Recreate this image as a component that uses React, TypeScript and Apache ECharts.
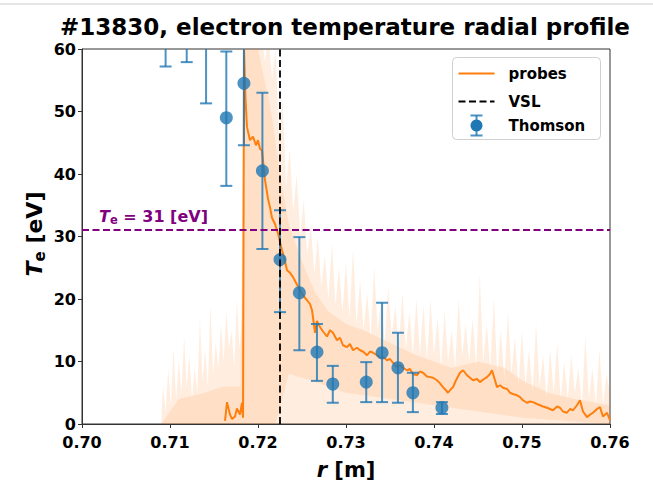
import React, { useEffect, useRef } from "react";
import * as echarts from "echarts";

// ---------- data ----------
const titleText = "#13830, electron temperature radial profile";
const xTickMin = 0.7;
const xTickMax = 0.76;
const yTickMin = 0;
const yTickMax = 60;

const vslR = 0.7225;
const teThreshold = 31;

// probe mean profile
const probeR = [
  0.71625, 0.71648, 0.71682, 0.71705, 0.71739, 0.71761, 0.71795, 0.71818, 0.7183, 0.71841,
  0.71858, 0.71875, 0.71909, 0.71943, 0.71977, 0.72, 0.72023, 0.72045, 0.7208, 0.72114,
  0.72136, 0.72159, 0.72193, 0.72227, 0.72273, 0.72307, 0.7233, 0.72364, 0.72398, 0.72432,
  0.72477, 0.72511, 0.72557, 0.72591, 0.72614, 0.72648, 0.7267, 0.72705, 0.72739, 0.72784,
  0.72818, 0.72852, 0.72898, 0.72932, 0.72966, 0.73011, 0.73045, 0.7308, 0.73125, 0.73159,
  0.73193, 0.73239, 0.73273, 0.73307, 0.73352, 0.73386, 0.73432, 0.73466, 0.735, 0.73534,
  0.7358, 0.73614, 0.73648, 0.73693, 0.73727, 0.73761, 0.73807, 0.73841, 0.73875, 0.7392,
  0.73955, 0.73989, 0.74034, 0.74068, 0.74102, 0.74136, 0.74159, 0.74193, 0.74216, 0.7425,
  0.74295, 0.7433, 0.74375, 0.74409, 0.74443, 0.74489, 0.74523, 0.74568, 0.74602, 0.74636,
  0.74659, 0.74693, 0.74716, 0.7475, 0.74784, 0.7483, 0.74864, 0.74898, 0.74943, 0.74977,
  0.75011, 0.75057, 0.75091, 0.75125, 0.7517, 0.75205, 0.75239, 0.75284, 0.75318, 0.75352,
  0.75398, 0.75432, 0.75466, 0.75511, 0.75545, 0.7558, 0.75625, 0.75659, 0.75693, 0.75739,
  0.75773, 0.75807, 0.75852, 0.75886, 0.7592, 0.75966, 0.76,
];
const probeTe = [
  0.5, 3.5, 1.5, 0.8, 1.2, 2.5, 1.5, 3.4, 1.0, 60,
  52, 47.5, 45.4, 46, 44.6, 45.4, 44, 43.8, 39, 36,
  34.7, 33, 32, 30.5, 27.8, 26, 24.6, 24.2, 23.5, 22.6,
  21.4, 20.6, 19.8, 19.2, 18.2, 14.6, 16.5, 15.5, 14.8, 14,
  15, 14.6, 13.4, 13.8, 12.6, 12.3, 12.8, 11.8, 12.2, 11.8,
  11.6, 11, 11.6, 11.4, 11, 10.7, 10.6, 10.2, 10.4, 9.8,
  9.1, 9.4, 9.0, 8.6, 8.8, 8.0, 7.8, 8.4, 8.2, 7.6,
  7.5, 7.4, 7.0, 6.5, 5.9, 5.4, 5.0, 5.6, 5.9, 7.0,
  8.2, 8.6, 7.8, 7.4, 7.0, 7.2, 6.7, 7.2, 7.5, 8.0,
  8.6, 7.0, 5.9, 6.2, 5.8, 5.6, 5.0, 4.8, 4.6, 4.3,
  3.8, 3.4, 3.6, 3.5, 3.2, 3.0, 2.8, 2.6, 2.4, 2.2,
  2.8, 2.6, 2.0, 1.8, 2.4, 2.2, 3.0, 3.8, 2.0, 1.1,
  1.5, 1.8, 2.4, 2.7, 1.2, 1.8, 0.6,
];

// raw probe signal: outer (spike) envelope, upper edge
const bandHiR = [
  0.709, 0.7092, 0.7095, 0.7098, 0.7101, 0.7104, 0.7107, 0.711, 0.7113, 0.7116,
  0.7119, 0.7122, 0.7125, 0.7128, 0.7131, 0.7134, 0.7137, 0.714, 0.7143, 0.7146,
  0.7149, 0.7152, 0.7155, 0.7158, 0.7161, 0.7164, 0.7167, 0.717, 0.7173, 0.7176,
  0.7179, 0.7182, 0.7184, 0.7188, 0.7192, 0.7196, 0.72, 0.7204, 0.7208, 0.7212,
  0.7216, 0.722, 0.7224, 0.7228, 0.7232, 0.7236, 0.724, 0.7244, 0.7248, 0.7252,
  0.7256, 0.726, 0.7264, 0.7268, 0.7272, 0.7276, 0.728, 0.7284, 0.7288, 0.7292,
  0.7296, 0.73, 0.7304, 0.7308, 0.7312, 0.7316, 0.732, 0.7324, 0.7328, 0.7332,
  0.7336, 0.734, 0.7344, 0.7348, 0.7352, 0.7356, 0.736, 0.7364, 0.7368, 0.7372,
  0.7376, 0.738, 0.7384, 0.7388, 0.7392, 0.7396, 0.74, 0.7404, 0.7408, 0.7412,
  0.7416, 0.742, 0.7424, 0.7428, 0.7432, 0.7436, 0.744, 0.7444, 0.7448, 0.7452,
  0.7456, 0.746, 0.7464, 0.7468, 0.7472, 0.7476, 0.748, 0.7484, 0.7488, 0.7492,
  0.7496, 0.75, 0.7504, 0.7508, 0.7512, 0.7516, 0.752, 0.7524, 0.7528, 0.7532,
  0.7536, 0.754, 0.7544, 0.7548, 0.7552, 0.7556, 0.756, 0.7564, 0.7568, 0.7572,
  0.7576, 0.758, 0.7584, 0.7588, 0.7592, 0.7596, 0.76,
];
const bandHi = [
  0, 6, 2, 9, 3, 12, 4, 10, 5, 14,
  6, 11, 4, 9, 5, 17, 7, 12, 6, 19,
  8, 13, 9, 16, 10, 18, 12, 15, 9, 20,
  12, 17, 62, 65, 62, 66, 63, 62, 58, 62,
  55, 60, 45, 52, 38, 44, 34, 40, 30, 36,
  27, 32, 24, 30, 22, 27, 20, 29, 19, 25,
  18, 26, 17, 28, 16, 23, 15, 21, 14, 25,
  15, 20, 13, 22, 14, 19, 12, 21, 12, 18,
  11, 20, 11, 19, 10, 20, 11, 17, 9, 18,
  10, 15, 9, 20, 11, 16, 10, 17, 9, 24,
  10, 16, 9, 20, 8, 15, 7, 18, 8, 14,
  6, 15, 6, 12, 5, 16, 6, 11, 4, 12,
  5, 13, 4, 10, 4, 11, 5, 9, 3, 14,
  4, 9, 3, 12, 3, 8, 5,
];
// outer envelope, lower edge
const bandLoR = [0.709, 0.76];
const bandLo = [0, 0];

// raw probe signal: dense core, upper and lower edges
const coreHiR = [0.709, 0.711, 0.714, 0.716, 0.718, 0.7184, 0.72, 0.7215, 0.7225, 0.7235, 0.725, 0.7265, 0.728, 0.73, 0.732, 0.735, 0.738, 0.74, 0.742, 0.745, 0.748, 0.75, 0.753, 0.756, 0.76];
const coreHi = [0, 4, 5, 6, 6, 60, 60, 50, 40, 32, 26, 21, 18, 16, 15, 13, 11, 10, 9, 10, 9, 7, 5, 4, 3];
const coreLoR = [0.709, 0.7184, 0.722, 0.7235, 0.726, 0.73, 0.735, 0.74, 0.745, 0.75, 0.76];
const coreLo = [0, 0, 0, 8, 7, 5, 4, 3, 2, 1, 0];

// Thomson scattering
const thomsonR = [0.7095, 0.7119, 0.7141, 0.7164, 0.7184, 0.7205, 0.7225, 0.7247, 0.7267, 0.7285, 0.7323, 0.7341, 0.7359, 0.7376, 0.7409];
const thomsonTe = [70, 68, 64, 49, 54.5, 40.5, 26.3, 21, 11.5, 6.4, 6.7, 11.4, 9.0, 5.0, 2.6];
const thomsonLo = [57.2, 57.9, 51.3, 38.1, 44.6, 28.0, 17.9, 11.8, 6.9, 3.4, 3.5, 3.5, 3.4, 1.9, 1.6];
const thomsonHi = [83, 78, 77, 59.6, 65, 53, 34.2, 29.9, 16, 9.3, 9.9, 19.4, 14.6, 8.2, 3.5];

// ---------- chart ----------
const FONT = "DejaVu Sans";
const ORANGE = "#ff7f0e";
const BLUE = "#1f77b4";
const PURPLE = "#800080";
const ERR = "rgba(31,119,180,0.8)";

function envelopeSeries(hiR: number[], hi: number[], loR: number[], lo: number[], fill: string, z: number) {
  return {
    type: "custom",
    clip: true,
    silent: true,
    z,
    data: [[0.73, 10]],
    renderItem: (params: any, api: any) => {
      const pts: number[][] = [];
      for (let i = 0; i < hiR.length; i++) pts.push(api.coord([hiR[i], hi[i]]));
      for (let i = loR.length - 1; i >= 0; i--) pts.push(api.coord([loR[i], lo[i]]));
      return { type: "polygon", shape: { points: pts }, style: { fill, stroke: "none" } };
    },
  };
}

export default function App() {
  const ref = useRef<HTMLDivElement>(null);

  useEffect(() => {
    if (!ref.current) return;
    const chart = echarts.init(ref.current, null, { renderer: "svg" });

    const probeData = probeR.map((r, i) => [r, probeTe[i]]);
    const thomsonData = thomsonR.map((r, i) => [r, thomsonTe[i]]);
    const errData = thomsonR.map((r, i) => [r, thomsonLo[i], thomsonHi[i]]);

    const option: any = {
      animation: false,
      backgroundColor: "#fff",
      grid: {
        left: 82,
        right: 43,
        top: 49,
        bottom: 76,
        show: true,
        borderColor: "#333",
        borderWidth: 1,
        backgroundColor: "transparent",
      },
      xAxis: {
        type: "value",
        min: xTickMin,
        max: xTickMax,
        interval: 0.01,
        axisLine: { show: true, lineStyle: { color: "#333", width: 1 } },
        axisTick: { show: true, length: 4, lineStyle: { color: "#333" } },
        axisLabel: {
          formatter: (v: number) => v.toFixed(2),
          fontFamily: FONT,
          fontWeight: "bold",
          fontSize: 16,
          color: "#000",
          margin: 10,
        },
        splitLine: { show: false },
      },
      yAxis: {
        type: "value",
        min: yTickMin,
        max: yTickMax,
        interval: 10,
        axisLine: { show: true, lineStyle: { color: "#333", width: 1 } },
        axisTick: { show: true, length: 4, lineStyle: { color: "#333" } },
        axisLabel: {
          fontFamily: FONT,
          fontWeight: "bold",
          fontSize: 16,
          color: "#000",
          margin: 6,
        },
        splitLine: { show: false },
      },
      series: [
        envelopeSeries(bandHiR, bandHi, bandLoR, bandLo, "rgba(255,127,14,0.13)", 1),
        envelopeSeries(coreHiR, coreHi, coreLoR, coreLo, "rgba(255,127,14,0.12)", 1),
        {
          type: "line",
          name: "probes",
          data: probeData,
          showSymbol: false,
          symbol: "none",
          z: 2,
          lineStyle: { color: ORANGE, width: 2 },
          markLine: {
            silent: true,
            symbol: "none",
            precision: 5,
            label: { show: false },
            data: [
              { yAxis: teThreshold, lineStyle: { color: PURPLE, width: 1.8, type: [7, 3.5] } },
              { xAxis: vslR, lineStyle: { color: "#000", width: 1.8, type: [7, 3.5] } },
            ],
          },
        },
        {
          type: "custom",
          name: "errbars",
          clip: true,
          z: 3,
          encode: { x: 0, y: [1, 2] },
          data: errData,
          renderItem: (params: any, api: any) => {
            const x = api.value(0);
            const lo = api.coord([x, api.value(1)]);
            const hi = api.coord([x, api.value(2)]);
            const w = 6;
            const style = { stroke: ERR, lineWidth: 2 };
            return {
              type: "group",
              children: [
                { type: "line", shape: { x1: lo[0], y1: lo[1], x2: hi[0], y2: hi[1] }, style },
                { type: "line", shape: { x1: lo[0] - w, y1: lo[1], x2: lo[0] + w, y2: lo[1] }, style },
                { type: "line", shape: { x1: hi[0] - w, y1: hi[1], x2: hi[0] + w, y2: hi[1] }, style },
              ],
            };
          },
        },
        {
          type: "scatter",
          name: "Thomson",
          data: thomsonData,
          symbol: "circle",
          symbolSize: 13,
          clip: true,
          z: 4,
          itemStyle: { color: BLUE },
        },
      ],
      graphic: [
        { type: "line", shape: { x1: 0, y1: 4, x2: 653, y2: 4 }, style: { stroke: "#cccccc", lineWidth: 1 }, z: 0 },
        {
          type: "text",
          x: 345,
          y: 27,
          style: {
            text: titleText,
            fontFamily: FONT,
            fontWeight: "bold",
            fontSize: 23,
            fill: "#000",
            textAlign: "center",
            textVerticalAlign: "middle",
          },
        },
        {
          type: "text",
          x: 346,
          y: 470,
          style: {
            text: "{i|r}{n| [m]}",
            textAlign: "center",
            textVerticalAlign: "middle",
            rich: {
              i: { fontFamily: FONT, fontWeight: "bold", fontStyle: "italic", fontSize: 21, fill: "#000" },
              n: { fontFamily: FONT, fontWeight: "bold", fontSize: 21, fill: "#000" },
            },
          },
        },
        {
          type: "text",
          x: 34,
          y: 234,
          rotation: Math.PI / 2,
          style: {
            text: "{i|T}{s|e}{n| [eV]}",
            textAlign: "center",
            textVerticalAlign: "middle",
            rich: {
              i: { fontFamily: FONT, fontWeight: "bold", fontStyle: "italic", fontSize: 22, fill: "#000", lineHeight: 26, verticalAlign: "middle" },
              s: { fontFamily: FONT, fontWeight: "bold", fontSize: 15, fill: "#000", lineHeight: 26, verticalAlign: "bottom" },
              n: { fontFamily: FONT, fontWeight: "bold", fontSize: 22, fill: "#000", lineHeight: 26, verticalAlign: "middle" },
            },
          },
        },
        {
          type: "text",
          x: 99,
          y: 216,
          style: {
            text: "{i|T}{s|e}{n| = " + teThreshold + " [eV]}",
            textAlign: "left",
            textVerticalAlign: "middle",
            rich: {
              i: { fontFamily: FONT, fontWeight: "bold", fontStyle: "italic", fontSize: 16, fill: PURPLE, lineHeight: 19, verticalAlign: "middle" },
              s: { fontFamily: FONT, fontWeight: "bold", fontSize: 11.5, fill: PURPLE, lineHeight: 19, verticalAlign: "bottom" },
              n: { fontFamily: FONT, fontWeight: "bold", fontSize: 16, fill: PURPLE, lineHeight: 19, verticalAlign: "middle" },
            },
          },
        },
        {
          type: "group",
          left: 452,
          top: 57,
          children: [
            {
              type: "rect",
              shape: { x: 0, y: 0, width: 148, height: 82, r: 4 },
              style: { fill: "rgba(255,255,255,0.85)", stroke: "#d0d0d0", lineWidth: 1 },
            },
            { type: "line", shape: { x1: 6, y1: 16, x2: 42, y2: 16 }, style: { stroke: ORANGE, lineWidth: 2 } },
            { type: "text", x: 56, y: 16, style: { text: "probes", fontFamily: FONT, fontWeight: "bold", fontSize: 15, fill: "#000", textVerticalAlign: "middle" } },
            { type: "line", shape: { x1: 6, y1: 44, x2: 42, y2: 44 }, style: { stroke: "#000", lineWidth: 1.8, lineDash: [7, 3.5] } },
            { type: "text", x: 56, y: 44, style: { text: "VSL", fontFamily: FONT, fontWeight: "bold", fontSize: 15, fill: "#000", textVerticalAlign: "middle" } },
            { type: "line", shape: { x1: 24, y1: 58, x2: 24, y2: 78 }, style: { stroke: ERR, lineWidth: 2 } },
            { type: "line", shape: { x1: 18, y1: 58, x2: 30, y2: 58 }, style: { stroke: ERR, lineWidth: 2 } },
            { type: "line", shape: { x1: 18, y1: 78, x2: 30, y2: 78 }, style: { stroke: ERR, lineWidth: 2 } },
            { type: "circle", shape: { cx: 24, cy: 68, r: 6 }, style: { fill: BLUE } },
            { type: "text", x: 56, y: 68, style: { text: "Thomson", fontFamily: FONT, fontWeight: "bold", fontSize: 15, fill: "#000", textVerticalAlign: "middle" } },
          ],
        },
      ],
    };

    chart.setOption(option);
    return () => chart.dispose();
  }, []);

  return (
    <div
      ref={ref}
      style={{ width: 653, height: 500, position: "absolute", left: 0, top: 0, background: "#fff" }}
    />
  );
}
